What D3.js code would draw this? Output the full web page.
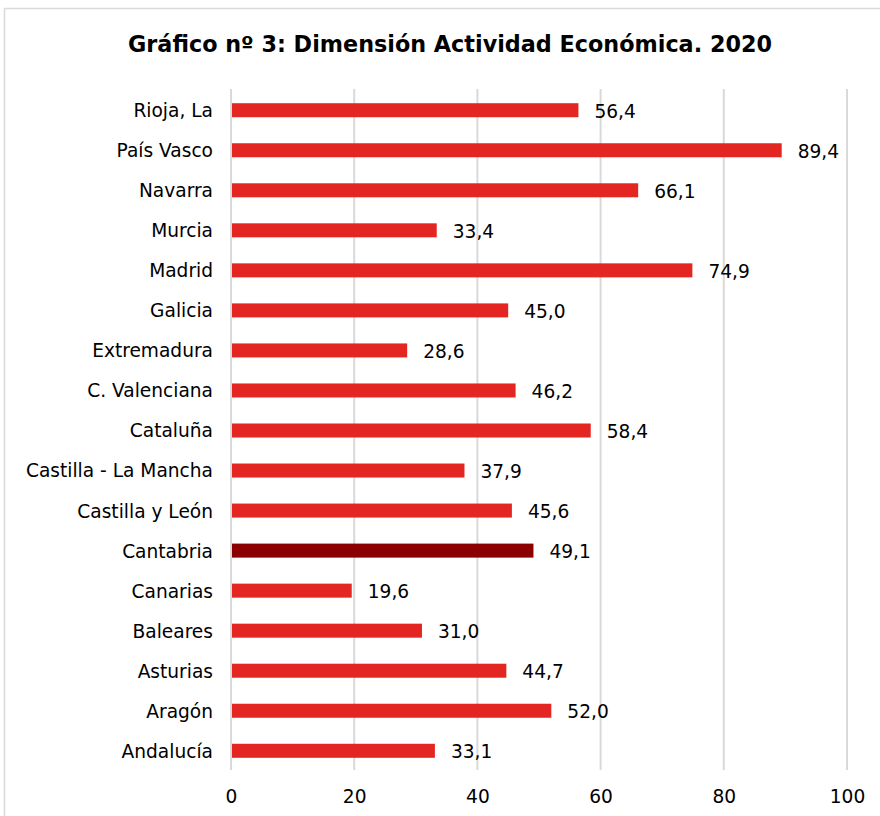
<!DOCTYPE html>
<html>
<head>
<meta charset="utf-8">
<script src="https://cdn.jsdelivr.net/npm/d3@7"></script>
<style>
  body { margin: 0; background: #fff; }
  svg { display: block; font-family: "DejaVu Sans", Verdana, sans-serif; }
</style>
</head>
<body>
<svg width="880" height="816"></svg>
<script>
var regions = ["Rioja, La", "País Vasco", "Navarra", "Murcia", "Madrid", "Galicia", "Extremadura",
  "C. Valenciana", "Cataluña", "Castilla - La Mancha", "Castilla y León", "Cantabria",
  "Canarias", "Baleares", "Asturias", "Aragón", "Andalucía"];
var values = [56.4, 89.4, 66.1, 33.4, 74.9, 45.0, 28.6, 46.2, 58.4, 37.9, 45.6, 49.1, 19.6, 31.0, 44.7, 52.0, 33.1];
var ticks = [0, 20, 40, 60, 80, 100];
var highlight = "Cantabria";

var data = regions.map(function (r, i) { return { region: r, value: values[i] }; });

var svg = d3.select("svg");

// marco exterior
svg.append("rect")
  .attr("x", 4.5).attr("y", 8.5)
  .attr("width", 890).attr("height", 820)
  .attr("fill", "none")
  .attr("stroke", "#d9d9d9")
  .attr("stroke-width", 1.5);

svg.append("text")
  .attr("x", 450).attr("y", 52)
  .attr("text-anchor", "middle")
  .attr("font-size", "22.3px")
  .attr("font-weight", "bold")
  .attr("fill", "#000")
  .text("Gráfico nº 3: Dimensión Actividad Económica. 2020");

var x = d3.scaleLinear().domain([0, 100]).range([231, 847]);
var y = d3.scaleBand().domain(regions).range([90, 771]).paddingInner(0.65).paddingOuter(0.33);

// rejilla
svg.append("g")
  .selectAll("line")
  .data(ticks)
  .enter().append("line")
  .attr("x1", function (d) { return x(d); })
  .attr("x2", function (d) { return x(d); })
  .attr("y1", 89).attr("y2", 770)
  .attr("stroke", "#d9d9d9")
  .attr("stroke-width", 2);

var xAxis = svg.append("g")
  .attr("transform", "translate(0,770)")
  .call(d3.axisBottom(x).tickValues(ticks).tickSize(0).tickPadding(20));
xAxis.select(".domain").remove();
xAxis.selectAll("text")
  .attr("font-size", "18.6px")
  .attr("font-family", "DejaVu Sans, Verdana, sans-serif")
  .attr("fill", "#000");

var yAxis = svg.append("g")
  .attr("transform", "translate(231,1)")
  .call(d3.axisLeft(y).tickSize(0).tickPadding(18));
yAxis.select(".domain").remove();
yAxis.selectAll("text")
  .attr("font-size", "18.6px")
  .attr("font-family", "DejaVu Sans, Verdana, sans-serif")
  .attr("fill", "#000");

svg.append("g")
  .selectAll("rect")
  .data(data)
  .enter().append("rect")
  .attr("x", x(0) + 1)
  .attr("y", function (d) { return y(d.region); })
  .attr("width", function (d) { return x(d.value) - x(0) - 1; })
  .attr("height", y.bandwidth())
  .attr("fill", function (d) { return d.region === highlight ? "#8b0000" : "#e32622"; });

svg.append("g")
  .selectAll("text")
  .data(data)
  .enter().append("text")
  .attr("x", function (d) { return x(d.value) + 16; })
  .attr("y", function (d) { return y(d.region) + y.bandwidth() / 2 + 1; })
  .attr("dy", "0.35em")
  .attr("font-size", "18.6px")
  .attr("fill", "#000")
  .text(function (d) { return d3.format(".1f")(d.value).replace(".", ","); });
</script>
</body>
</html>
